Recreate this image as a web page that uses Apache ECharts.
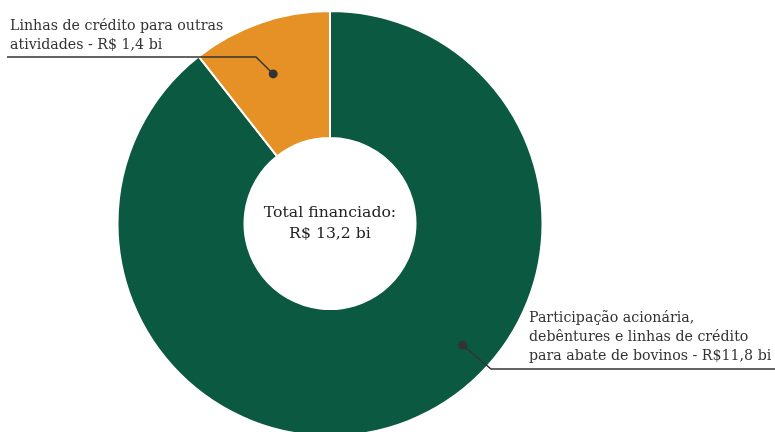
<!DOCTYPE html>
<html>
<head>
<meta charset="utf-8">
<script src="https://cdn.jsdelivr.net/npm/echarts@6/dist/echarts.min.js"></script>
<style>
  html, body { margin: 0; padding: 0; background: #fff; }
  #chart { width: 775px; height: 432px; }
</style>
</head>
<body>
<div id="chart"></div>
<script>
// Financing split (R$ billions)
const categories = [
  'Participação acionária,\ndebêntures e linhas de crédito\npara abate de bovinos',
  'Linhas de crédito para outras\natividades'
];
const values = [11.8, 1.4];
const currencyPrefix = ['R$', 'R$ '];
const sliceColors = ['#0c5941', '#e69125'];
const centerTitle = 'Total financiado:';

const FONT = '"DejaVu Serif", "Liberation Serif", serif';
const CX = 330, CY = 223.5, R_IN = 85.5, R_OUT = 212.5;

function fmt(v) {
  return v.toFixed(1).replace('.', ',');
}

// point on the ring: angle in degrees clockwise from 12 o'clock
function polar(angle, r) {
  const a = angle * Math.PI / 180;
  return [CX + r * Math.sin(a), CY - r * Math.cos(a)];
}

// where each callout starts inside its slice, and its leader path
const callouts = [
  { anchor: polar(132.5, 180), knee: [491, 369], end: [775, 369], textX: 529, textBottom: 365.5 },
  { anchor: polar(-20.8, 160), knee: [256, 57], end: [7, 57], textX: 10, textBottom: 54.5 }
];

const total = values.reduce((s, v) => s + v, 0);

const chart = echarts.init(document.getElementById('chart'), null, { renderer: 'canvas' });

const leaderElements = [];
callouts.forEach(c => {
  leaderElements.push({
    type: 'polyline',
    shape: { points: [c.anchor, c.knee, c.end] },
    style: { stroke: '#333333', lineWidth: 1.5, fill: null },
    z: 100
  });
  leaderElements.push({
    type: 'circle',
    shape: { cx: c.anchor[0], cy: c.anchor[1], r: 4.5 },
    style: { fill: '#333333' },
    z: 101
  });
});

chart.setOption({
  backgroundColor: '#ffffff',
  animation: false,
  series: [{
    type: 'pie',
    center: [CX, CY],
    radius: [R_IN, R_OUT],
    startAngle: 90,
    clockwise: true,
    avoidLabelOverlap: false,
    silent: true,
    itemStyle: { borderColor: '#ffffff', borderWidth: 2 },
    data: categories.map((name, i) => ({
      name: name,
      value: values[i],
      itemStyle: { color: sliceColors[i] }
    })),
    label: {
      show: true,
      position: 'outside',
      color: '#333333',
      fontFamily: FONT,
      fontSize: 14.2,
      lineHeight: 19,
      align: 'left',
      formatter: p => p.name + ' - ' + currencyPrefix[p.dataIndex] + fmt(p.value) + ' bi'
    },
    labelLine: { show: false },
    labelLayout: function (params) {
      const c = callouts[params.dataIndex];
      return {
        x: c.textX,
        y: c.textBottom,
        align: 'left',
        verticalAlign: 'bottom'
      };
    }
  }],
  graphic: {
    elements: leaderElements.concat([{
      type: 'text',
      x: CX,
      y: CY,
      style: {
        text: centerTitle + '\nR$ ' + fmt(total) + ' bi',
        fill: '#222222',
        font: '15.7px ' + FONT,
        lineHeight: 21,
        align: 'center',
        verticalAlign: 'middle'
      },
      z: 100
    }])
  }
});
</script>
</body>
</html>
